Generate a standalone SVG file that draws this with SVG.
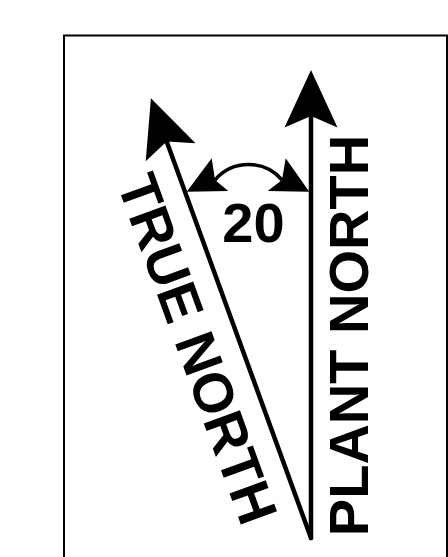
<svg xmlns="http://www.w3.org/2000/svg" width="448" height="557" viewBox="0 0 448 557">
<style>
.frame{fill:none;stroke:#000;stroke-width:2}
.shaft{stroke:#000;stroke-width:4.5;stroke-linecap:round;fill:none}
.head{fill:#000;stroke:none}
.arc{fill:none;stroke:#000;stroke-width:3.5}
.lbl{font-family:"Liberation Sans",Arial,sans-serif;font-weight:bold;font-size:56px;fill:#000;text-anchor:middle}
</style>
<rect class="frame" x="64" y="35.5" width="383" height="600"/>
<g id="plant-north">
<line class="shaft" x1="311" y1="538" x2="311" y2="112"/>
<polygon class="head" points="311,70 337.5,127.5 311,116 284.5,127.5"/>
<text class="lbl" transform="translate(368,335.5) rotate(-90)">PLANT NORTH</text>
</g>
<g id="true-north">
<g transform="rotate(-20 311 538)">
<line class="shaft" x1="311" y1="538" x2="311" y2="112"/>
<polygon class="head" points="311,70 337.5,127.5 311,116 284.5,127.5"/>
</g>
<text class="lbl" transform="translate(179.2,355.6) rotate(70)">TRUE NORTH</text>
</g>
<g id="angle">
<path class="arc" d="M215,180 A44,44 0 0 1 282,180"/>
<polygon class="head" points="186.7,191.7 211.7,158.3 215,180 228.3,191"/>
<polygon class="head" points="309.3,191.7 285.7,158.3 282,180 267.7,191"/>
<text class="lbl" x="253.5" y="241.5" font-size="55">20</text>
</g>
</svg>
